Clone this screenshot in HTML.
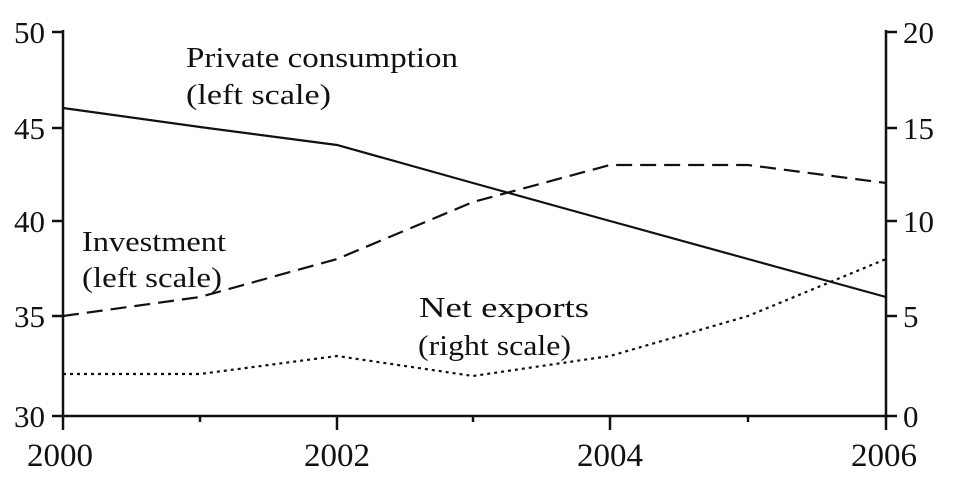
<!DOCTYPE html>
<html><head><meta charset="utf-8"><style>
html,body{margin:0;padding:0;background:#fff;}
svg{display:block;}
text{font-family:"Liberation Serif",serif;fill:#111;}
.t{font-size:31px;}
.y{font-size:33px;}
.l{font-size:29px;}
</style></head><body>
<svg width="960" height="481" viewBox="0 0 960 481">
<g stroke="#111" stroke-width="2.5" fill="none">
<line x1="63" y1="30" x2="63" y2="430"/>
<line x1="886" y1="30" x2="886" y2="430"/>
<line x1="63" y1="416" x2="886" y2="416"/>
<line x1="52" y1="32" x2="63" y2="32"/>
<line x1="52" y1="128" x2="63" y2="128"/>
<line x1="52" y1="221" x2="63" y2="221"/>
<line x1="52" y1="316" x2="63" y2="316"/>
<line x1="52" y1="416" x2="63" y2="416"/>
<line x1="886" y1="32" x2="897" y2="32"/>
<line x1="886" y1="128" x2="897" y2="128"/>
<line x1="886" y1="221" x2="897" y2="221"/>
<line x1="886" y1="316" x2="897" y2="316"/>
<line x1="886" y1="416" x2="897" y2="416"/>
<line x1="200" y1="416" x2="200" y2="422"/>
<line x1="337" y1="416" x2="337" y2="430"/>
<line x1="473" y1="416" x2="473" y2="422"/>
<line x1="610" y1="416" x2="610" y2="430"/>
<line x1="748" y1="416" x2="748" y2="422"/>
</g>
<polyline fill="none" stroke="#111" stroke-width="2.2" points="63,108 200,127 337,145 473,183 610,221 748,259 886,297"/>
<polyline fill="none" stroke="#111" stroke-width="2.2" stroke-dasharray="16,8" points="63,316 200,297 337,259 473,202 610,165 748,165 886,183"/>
<polyline fill="none" stroke="#111" stroke-width="2.2" stroke-dasharray="3,4" points="63,374 200,374 337,356 473,376 610,356 748,316 886,259"/>
<g class="t" text-anchor="end">
<text x="45" y="43">50</text><text x="45" y="139">45</text><text x="45" y="232">40</text><text x="45" y="327">35</text><text x="45" y="427">30</text>
</g>
<g class="t" text-anchor="start">
<text x="903" y="43">20</text><text x="903" y="139">15</text><text x="903" y="232">10</text><text x="903" y="327">5</text><text x="903" y="427">0</text>
</g>
<g class="y" text-anchor="middle">
<text x="60" y="466">2000</text><text x="337" y="466">2002</text><text x="610" y="466">2004</text><text x="884" y="466">2006</text>
</g>
<g class="l">
<text x="186" y="67" textLength="272" lengthAdjust="spacingAndGlyphs">Private consumption</text>
<text x="186" y="104" textLength="145" lengthAdjust="spacingAndGlyphs">(left scale)</text>
<text x="82" y="251" textLength="144" lengthAdjust="spacingAndGlyphs">Investment</text>
<text x="82" y="287" textLength="140" lengthAdjust="spacingAndGlyphs">(left scale)</text>
<text x="419" y="317" textLength="170" lengthAdjust="spacingAndGlyphs">Net exports</text>
<text x="418" y="355" textLength="153" lengthAdjust="spacingAndGlyphs">(right scale)</text>
</g>
</svg>
</body></html>
